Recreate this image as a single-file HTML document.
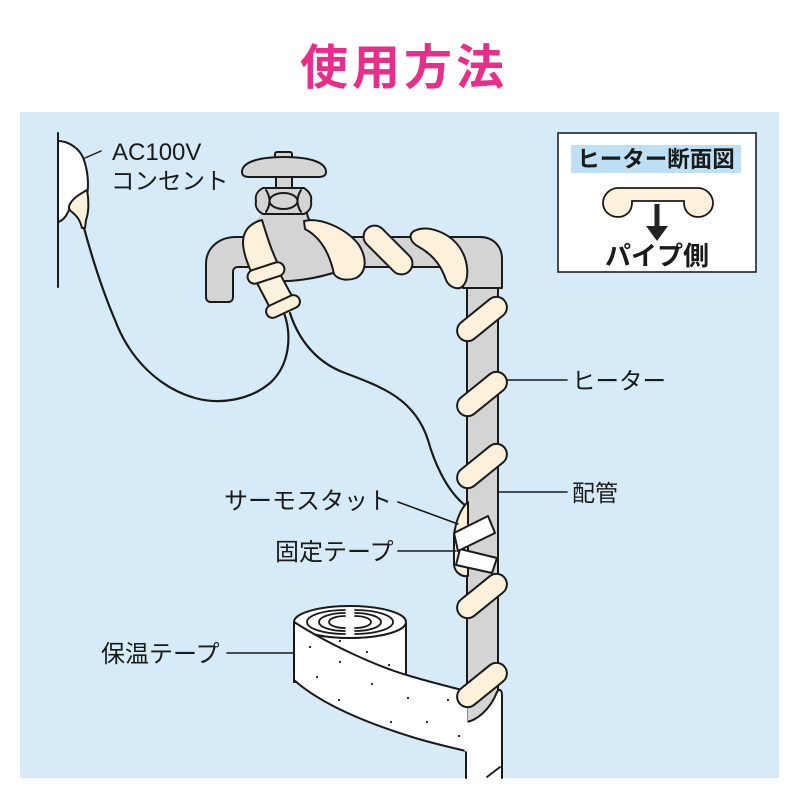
<!DOCTYPE html>
<html><head><meta charset="utf-8"><style>
html,body{margin:0;padding:0;background:#fff;}
svg{display:block;}
text{font-family:"Liberation Sans","Noto Sans CJK JP",sans-serif;}
</style></head><body>
<svg width="800" height="800" viewBox="0 0 800 800" xmlns="http://www.w3.org/2000/svg">
<rect x="0" y="0" width="800" height="800" fill="#ffffff"/>
<text x="404" y="84" text-anchor="middle" font-size="48" font-weight="bold" fill="#e62e8b" letter-spacing="4" style="font-family:'Noto Sans CJK JP',sans-serif">使用方法</text>
<rect x="20" y="112" width="759" height="666" fill="#d6eaf7"/>

<g stroke="#1a1a1a" stroke-width="2" stroke-linejoin="round" stroke-linecap="round">
<!-- outlet -->
<line x1="58" y1="133" x2="58" y2="287" fill="none"/>
<path d="M58,141 C68,141 80,148 84,160 C88,172 89,185 87,195 L80,200 C74,203 70,207 68,212 C66,217 62,221 58,222 Z" fill="#ffffff"/>
<path d="M70,204 C73,198 80,194 87,190 C89,200 89,212 86,220 L85,228 L82,228 C80,220 77,216 72,212 C69,210 68,207 70,204 Z" fill="#fdf1dc"/>
<line x1="85" y1="158" x2="101" y2="151" stroke-width="1.5"/>

<!-- wires -->
<path d="M284,313 C292,335 290,365 270,383 C250,400 220,405 195,398 C160,388 130,360 115,320 C100,285 90,250 84,228" fill="none" stroke-width="2.2"/>
<path d="M290,313 C298,338 315,362 345,373 C385,388 415,400 428,440 C433,458 445,490 466,506" fill="none" stroke-width="2.2"/>

<!-- vertical pipe -->
<rect x="467" y="284" width="31" height="450" fill="#d4d4d4"/>
<!-- main pipe + spout + elbow -->
<path d="M206,297 L206,264 C206,248 219,237 236,237 L480,237 C493,237 502,246 502,259 L502,288 L463,288 L463,267 L238,267 C235,267 233,269 233,272 L233,297 C233,300 231,302 228,302 L211,302 C208,302 206,300 206,297 Z" fill="#d4d4d4"/>
<!-- body -->
<path d="M262,213 L308,213 C309,224 320,230 345,236 L345,268 C330,275 300,283 275,281 L250,278 L248,230 Z" fill="#d4d4d4" stroke="none"/>
<path d="M307,213 C308,224 320,230 340,234" fill="none"/>
<path d="M258,280 C290,284 320,278 342,270" fill="none"/>
<!-- stem, nut, handle -->
<rect x="276" y="175" width="16" height="15" fill="#d4d4d4"/>
<path d="M263,188 L304,188 C310,192 312,197 311,201 C312,206 310,211 304,214 L263,214 C257,211 255,206 256,201 C255,196 257,191 263,188 Z" fill="#d4d4d4"/>
<path d="M266,190 Q273,201 266,212" fill="none"/>
<path d="M301,190 Q294,201 301,212" fill="none"/>
<ellipse cx="283.5" cy="201" rx="14" ry="8" fill="#d4d4d4"/>
<rect x="275" y="152" width="17" height="7" rx="2" fill="#d4d4d4"/>
<path d="M242,172 C242,161 262,157 284,157 C306,157 326,161 326,172 C326,176 322,177 318,177 L250,177 C245,177 242,176 242,172 Z" fill="#d4d4d4"/>

<!-- heater bands on faucet -->
<path d="M243,242 C243,231 250,223 262,220 C267,236 271,250 279,266 L252,274 C247,262 243,252 243,242 Z" fill="#fdf1dc"/>
<path d="M256,281 L280,274 L293,298 L269,306 Z" fill="#fdf1dc"/>
<rect x="247" y="266" width="38" height="14" rx="7" fill="#fdf1dc" transform="rotate(-18 266 273)"/>
<rect x="265" y="300" width="36" height="13" rx="6.5" fill="#fdf1dc" transform="rotate(-25 283 306.5)"/>
<path d="M304,221 C320,217 346,228 359,245 C367,258 367,272 356,278 C348,281 338,280 334,274 C330,255 322,238 305,229 Z" fill="#fdf1dc"/>
<rect x="358" y="239" width="60" height="22" rx="11" fill="#fdf1dc" transform="rotate(45 388 250)"/>
<path d="M414,231 C428,224 450,233 460,248 C468,260 470,278 463,286 C458,291 449,287 446,280 C442,268 435,256 419,247 C410,242 408,235 414,231 Z" fill="#fdf1dc"/>

<!-- insulation tape roll -->
<path d="M294,622 A56,16 0 0 0 406,622 L406,678 L294,682 Z" fill="#ffffff"/>
<ellipse cx="350" cy="622" rx="56" ry="16" fill="#ffffff"/>
<g fill="none" stroke-width="1.8">
<path d="M345,610 A38,12 0 0 0 345,634"/><path d="M355,610 A38,12 0 0 1 355,634"/>
<path d="M345,613 A26,9 0 0 0 345,631"/><path d="M355,613 A26,9 0 0 1 355,631"/>
<path d="M345,616 A16,6 0 0 0 345,628"/><path d="M355,616 A16,6 0 0 1 355,628"/>
</g>
<!-- tube on pipe -->
<path d="M466,778 L466,722 C476,721 490,710 497,692 C499,688 502,690 502,695 L502,778" fill="#ffffff"/>
<!-- strip -->
<path d="M294,622 C330,645 378,667 410,676 C430,682 450,687 466,691 L466,751 C440,745 425,741 412,737 C370,724 322,705 294,680 Z" fill="#ffffff"/>
<line x1="466" y1="692" x2="466" y2="750" stroke="#ffffff" stroke-width="3"/>
<line x1="487" y1="777" x2="500" y2="767" stroke-width="1.8"/>

<!-- heater bands on vertical pipe -->
<rect x="453" y="308.5" width="58" height="21" rx="10.5" fill="#fdf1dc" transform="rotate(-39 482 319)"/>
<rect x="453" y="383.5" width="58" height="21" rx="10.5" fill="#fdf1dc" transform="rotate(-39 482 394)"/>
<rect x="453" y="455.5" width="58" height="21" rx="10.5" fill="#fdf1dc" transform="rotate(-39 482 466)"/>
<rect x="453" y="585.5" width="58" height="21" rx="10.5" fill="#fdf1dc" transform="rotate(-39 482 596)"/>
<rect x="453" y="674.5" width="58" height="21" rx="10.5" fill="#fdf1dc" transform="rotate(-39 482 685)"/>

<!-- thermostat -->
<path d="M468,502 C461,508 456,520 454,535 L454,565 C455,573 462,577 468,576 Z" fill="#fdf1dc"/>
<polygon points="460,549 497,558 492,573 456,565" fill="#ffffff"/>
<polygon points="454,533 488,516 495,533 458,551" fill="#ffffff"/>

<!-- leader lines -->
<g stroke-width="1.6">
<line x1="507" y1="380" x2="567" y2="380"/>
<line x1="499" y1="492" x2="567" y2="492"/>
<line x1="398" y1="502" x2="458" y2="524"/>
<line x1="398" y1="551" x2="456" y2="551"/>
<line x1="227" y1="653" x2="294" y2="653"/>
</g>
</g>

<!-- dots -->
<g fill="#1a1a1a">
<circle cx="310" cy="647" r="1.1"/><circle cx="340" cy="641" r="1.1"/><circle cx="367" cy="652" r="1.1"/>
<circle cx="389" cy="665" r="1.1"/><circle cx="340" cy="662" r="1.1"/><circle cx="317" cy="677" r="1.1"/>
<circle cx="372" cy="684" r="1.1"/><circle cx="339" cy="700" r="1.1"/><circle cx="408" cy="698" r="1.1"/>
<circle cx="427" cy="722" r="1.1"/><circle cx="391" cy="722" r="1.1"/><circle cx="448" cy="700" r="1.1"/>
<circle cx="459" cy="736" r="1.1"/>
</g>

<!-- labels -->
<g fill="#1a1a1a" font-size="24">
<text x="112" y="160">AC100V</text>
<text x="111" y="189" font-size="23.5">コンセント</text>
<text x="572" y="389" font-size="23.5">ヒーター</text>
<text x="572" y="501" font-size="23">配管</text>
<text x="224" y="509">サーモスタット</text>
<text x="275" y="560">固定テープ</text>
<text x="101" y="662">保温テープ</text>
</g>

<!-- inset -->
<rect x="558" y="133" width="198" height="139" fill="#ffffff" stroke="#222" stroke-width="1.6"/>
<rect x="571" y="145" width="170" height="28" fill="#bfe0f4"/>
<text x="656" y="167" text-anchor="middle" font-size="22.5" font-weight="bold" fill="#1a1a1a">ヒーター断面図</text>
<path d="M618,188 L698,188 C706,188 713,195 713,203 C713,211 706,217 698,217 C690,217 684,211 684,203 L684,201 L632,201 L632,203 C632,211 626,217 618,217 C610,217 603,211 603,203 C603,195 610,188 618,188 Z" fill="#fdf1dc" stroke="#1a1a1a" stroke-width="1.8"/>
<rect x="654.5" y="204" width="5" height="24" fill="#222"/>
<polygon points="646,226 668,226 657,241" fill="#222"/>
<text x="657" y="265" text-anchor="middle" font-size="26" font-weight="bold" fill="#1a1a1a">パイプ側</text>
</svg>
</body></html>
